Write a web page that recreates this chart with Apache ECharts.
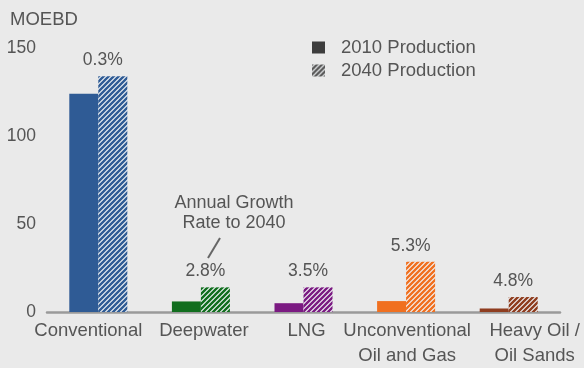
<!DOCTYPE html>
<html>
<head>
<meta charset="utf-8">
<script src="https://cdn.jsdelivr.net/npm/echarts@6/dist/echarts.min.js"></script>
<style>
html,body{margin:0;padding:0;background:#eaeaea;}
#chart{width:584px;height:368px;}
</style>
</head>
<body>
<div id="chart"></div>
<script>
const categories = ['Conventional', 'Deepwater', 'LNG', 'Unconventional\nOil and Gas', 'Heavy Oil /\nOil Sands'];
const prod2010 = [124, 6, 5, 6.2, 2];
const prod2040 = [134, 14, 14, 28.5, 8.5];
const growthRates = ['0.3%', '2.8%', '3.5%', '5.3%', '4.8%'];
const barColors = ['#2f5b95', '#116e1e', '#7b1a82', '#f07020', '#8f3d1f'];
const yTicks = [0, 50, 100, 150];
const labelShift = [-10, 3, 3, 1, 26];

const FONT = 'Liberation Sans, Arial, sans-serif';
const TXT = '#555555';

function hatch(color) {
  const s = 5;
  const c = document.createElement('canvas');
  c.width = s; c.height = s;
  const g = c.getContext('2d');
  g.fillStyle = '#f3f6f8';
  g.fillRect(0, 0, s, s);
  g.strokeStyle = color;
  g.lineWidth = 2.4;
  g.beginPath();
  for (let k = -1; k <= 1; k++) {
    g.moveTo(k * s - 1, s + 1);
    g.lineTo(k * s + s + 1, -1);
  }
  g.stroke();
  return { image: c, repeat: 'repeat' };
}

const chart = echarts.init(document.getElementById('chart'), null, { renderer: 'canvas' });

const catData = categories.map((c, i) => {
  const sh = labelShift[i];
  return {
    value: c,
    textStyle: { padding: sh >= 0 ? [0, 0, 0, 2 * sh] : [0, -2 * sh, 0, 0] }
  };
});

chart.setOption({
  animation: false,
  backgroundColor: '#eaeaea',
  textStyle: { fontFamily: FONT },
  title: {
    text: 'MOEBD', left: 5, top: 5,
    textStyle: { fontSize: 18.5, fontWeight: 'normal', color: TXT, fontFamily: FONT }
  },
  legend: {
    data: ['2010 Production', '2040 Production'],
    orient: 'vertical', left: 307, top: 33,
    itemWidth: 13, itemHeight: 12, itemGap: 4,
    icon: 'rect',
    textStyle: { fontSize: 18.5, color: TXT, fontFamily: FONT, padding: [0, 0, 0, 11] }
  },
  grid: { left: 47, right: 24, top: 48, bottom: 56 },
  xAxis: {
    type: 'category',
    data: catData,
    axisLine: { show: true, lineStyle: { color: '#9a9a9a', width: 2.5 } },
    axisTick: { show: false },
    axisLabel: { interval: 0, fontSize: 18.5, color: TXT, lineHeight: 25, margin: 6, fontFamily: FONT }
  },
  yAxis: {
    type: 'value', min: yTicks[0], max: yTicks[yTicks.length - 1], interval: yTicks[1] - yTicks[0],
    axisLine: { show: false }, axisTick: { show: false },
    splitLine: { show: false },
    axisLabel: { fontSize: 17.5, color: TXT, margin: 11, fontFamily: FONT }
  },
  series: [
    {
      name: '2010 Production', type: 'bar', barWidth: 29, barGap: '0%',
      itemStyle: { color: '#3d3d3d' },
      data: prod2010.map((v, i) => ({ value: v, itemStyle: { color: barColors[i] } }))
    },
    {
      name: '2040 Production', type: 'bar', barWidth: 29, barGap: '0%',
      itemStyle: { color: hatch('#5a5a5a') },
      label: {
        show: true, position: 'top', distance: 7, offset: [-10, 0],
        fontSize: 17.5, color: TXT, fontFamily: FONT,
        formatter: p => growthRates[p.dataIndex]
      },
      data: prod2040.map((v, i) => ({ value: v, itemStyle: { color: hatch(barColors[i]) } }))
    }
  ],
  graphic: [
    {
      type: 'text', x: 234, y: 193,
      style: {
        text: 'Annual Growth\nRate to 2040', align: 'center', verticalAlign: 'top',
        fontSize: 18, lineHeight: 20, fill: TXT, fontFamily: FONT
      }
    },
    {
      type: 'line',
      shape: { x1: 220, y1: 238, x2: 208, y2: 258 },
      style: { stroke: '#666', lineWidth: 2 }
    }
  ]
});
</script>
</body>
</html>
